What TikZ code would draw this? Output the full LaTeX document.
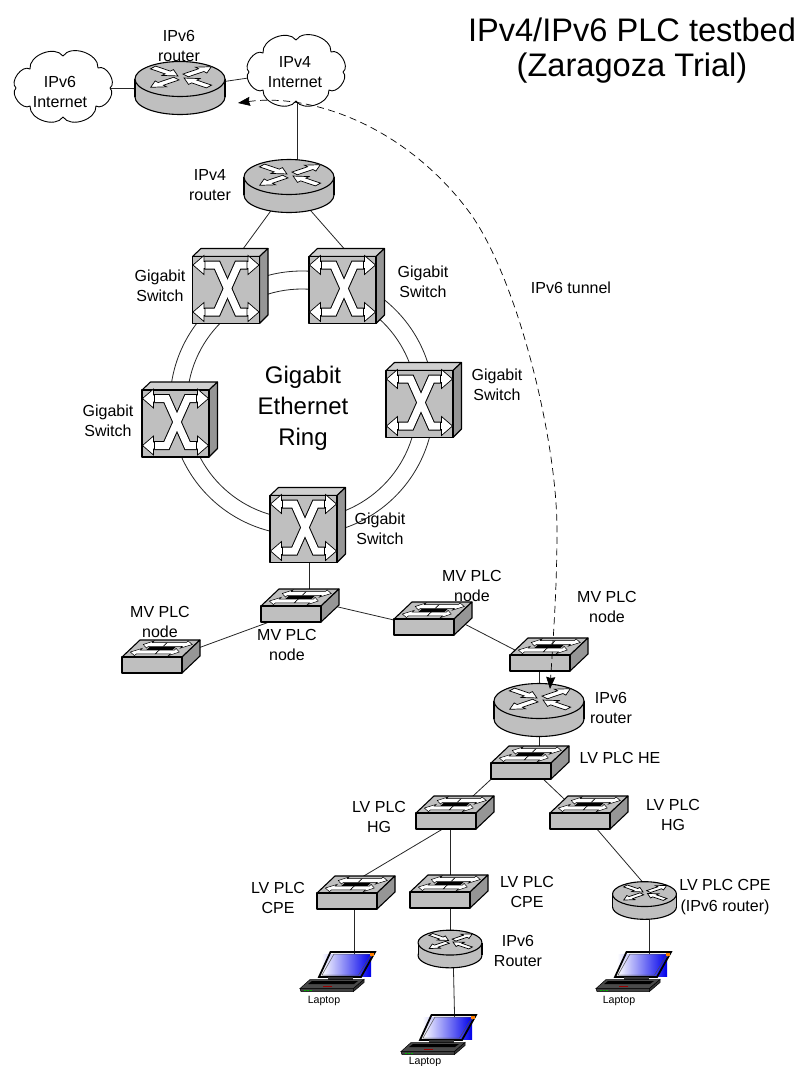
\documentclass[tikz,border=0pt]{standalone}
\usepackage{fontspec}
\setmainfont{Liberation Sans}
\usetikzlibrary{arrows.meta,backgrounds}
\definecolor{devgray}{HTML}{BFBFBF}
\definecolor{devlight}{HTML}{D0D0D0}
\definecolor{devdark}{HTML}{969696}
\definecolor{lapbody}{HTML}{4A4A4A}
\tikzset{
	icon/.style={draw=black,line width=1.1,line join=round},
	flow/.style={draw=black,fill=white,line width=.7,line join=miter},
	link/.style={draw=black!85,line width=.8},
	ringline/.style={draw=black!85,line width=.8,circle,inner sep=0},
	hit/.style={inner sep=0,transform shape},
	lbl/.style={align=center,inner sep=0,font=\fontsize{16}{20.5}\selectfont},
	ringlbl/.style={align=center,inner sep=0,font=\fontsize{24}{31}\selectfont},
	titlelbl/.style={align=center,inner sep=0,font=\fontsize{32.6}{35}\selectfont},
	laplbl/.style={inner sep=0,font=\fontsize{10.6}{12}\selectfont},
	tunnel/.style={draw=black,line width=.7,dash pattern=on 7 off 4.5,{Stealth[length=12,width=9,inset=1]}-{Stealth[length=12,width=9,inset=1]}},
	cloudpic/.pic={
		\node[hit,minimum width=96,minimum height=70] (-box) {};
		\draw[icon,fill=white,line width=.9] (0,-31) to[bend left=75] (35,-19) to[bend left=85] (47,1) to[bend left=85] (33,19) to[bend left=75] (0,30) to[bend left=75] (-33,19) to[bend left=85] (-47,1) to[bend left=85] (-33,-18) to[bend left=75] (0,-31) -- cycle;
	},
	routerpic/.pic={
		\node[hit,minimum width=88,minimum height=50] (-box) {};
		\draw[icon,fill=devgray] (0,9) circle[x radius=45,y radius=17.5];
		\fill[devgray] (-45,-9) rectangle (45,9);
		\draw[icon] (-45,-9) -- (-45,9);
		\draw[icon] (45,-9) -- (45,9);
		\draw[icon,fill=devgray] (0,-9) circle[x radius=45,y radius=17.5];
		\begin{scope}[shift={(1,-11)},yscale=.42]
			\foreach \ang/\rtail/\rneck/\rtip in {39/6/26/39,141/36/17/4,219/6/26/39,321/36/17/4}
				\draw[flow,rotate=\ang] (\rtail,-4.2) -- (\rneck,-4.2) -- (\rneck,-9) -- (\rtip,0) -- (\rneck,9) -- (\rneck,4.2) -- (\rtail,4.2) -- cycle;
		\end{scope}
	},
	bigswitchpic/.pic={
		\node[hit,minimum size=66] (-box) {};
		\draw[icon,fill=devlight] (-33.5,-33.5) -- (-25,-41.5) -- (42,-41.5) -- (33.5,-33.5) -- cycle;
		\draw[icon,fill=devdark] (33.5,-33.5) -- (42,-41.5) -- (42,25) -- (33.5,33.5) -- cycle;
		\draw[icon,fill=devgray] (-33.5,-33.5) rectangle (33.5,33.5);
		\foreach \lw/\col in {9/black,7/white} {
			\draw[line width=\lw,color=\col,line join=miter] (-24,-25) -- (-9,-25) -- (12,22) -- (24,22);
			\draw[line width=\lw,color=\col,line join=miter] (-24,22) -- (-9,22) -- (12,-25) -- (24,-25);
		}
		\foreach \sx in {-1,1}
			\foreach \sy in {-25,22}
				\draw[flow,xscale=\sx] (22,\sy-9.5) -- (33,\sy) -- (22,\sy+9.5) -- (22,\sy+3.5) -- (21,\sy+3.5) -- (21,\sy-3.5) -- (22,\sy-3.5) -- cycle;
	},
	smallswitchpic/.pic={
		\node[hit,minimum width=58,minimum height=14] (-box) at (-9,8) {};
		\draw[icon,fill=devgray] (-39,0) -- (-21,-17) -- (39,-17) -- (21,0) -- cycle;
		\draw[icon,fill=devdark] (21,0) -- (39,-17) -- (39,-1) -- (21,16) -- cycle;
		\draw[icon,fill=devgray] (-39,0) rectangle (21,16);
		\begin{scope}[shift={(-9,0)},xslant=1.06]
			\fill[black] (-13,-10) rectangle (13,-7);
			\foreach \v/\tail/\neck/\tip in {-12.5/0/-15/-22,-12.5/0/19/27,-5/0/-19/-27,-5/0/15/22}
				\draw[flow,line width=.5] (\tail,\v-1.9) -- (\neck,\v-1.9) -- (\neck,\v-3.6) -- (\tip,\v) -- (\neck,\v+3.6) -- (\neck,\v+1.9) -- (\tail,\v+1.9) -- cycle;
		\end{scope}
	},
	laptoppic/.pic={
		\node[hit,minimum width=40,minimum height=30] (-box) {};
		\shade[left color=white,right color=blue!92!black] (-18.5,-17.5) rectangle (31,4);
		\draw[black,line width=1.8,line join=miter] (-21,5) -- (21,5) -- (35,-20) -- (-9.5,-20) -- cycle;
		\draw[black!70,line width=.5] (-18,3) -- (18.5,3) -- (31.5,-18) -- (-6,-18) -- cycle;
		\fill[orange] (30,-19) rectangle (33.5,-16);
		\fill[black!80] (-12,5) rectangle (13,7.5);
		\draw[black,line width=.5,fill=lapbody] (-30,7.5) -- (24,7.5) -- (13.5,16.5) -- (-40,16.5) -- cycle;
		\draw[black,line width=.5,fill=black!75] (-40,16.5) -- (13.5,16.5) -- (13.5,19.5) -- (-39,19.5) -- cycle;
		\draw[black,line width=.5,fill=black!80] (13.5,16.5) -- (24,7.5) -- (24,10.5) -- (13.5,19.5) -- cycle;
		\fill[black] (-28,9) -- (18,9) -- (14,12) -- (-32,12) -- cycle;
		\fill[red!60!black] (-17,13.5) rectangle (-8,15);
		\foreach \ledx in {-36,-33,-30}
			\fill[green!70!black] (\ledx,17.5) rectangle (\ledx+1.5,18.7);
	},
}
\begin{document}
\begin{tikzpicture}[x=1pt,y=-1pt]
	\useasboundingbox (0,0) rectangle (803,1066);
	\pic (cloudSix) at (63,87) {cloudpic};
	\pic (cloudFour) at (296,71) {cloudpic};
	\pic (rtSix) at (180,88) {routerpic};
	\pic (rtFour) at (289,186) {routerpic};
	\pic (swA) at (226,290) {bigswitchpic};
	\pic (swB) at (342.5,290) {bigswitchpic};
	\pic (swC) at (175.5,423.5) {bigswitchpic};
	\pic (swD) at (419.5,404) {bigswitchpic};
	\pic (swE) at (303.5,529) {bigswitchpic};
	\pic (mvCentre) at (300,606) {smallswitchpic};
	\pic (mvLeft) at (161,657) {smallswitchpic};
	\pic (mvMid) at (433,619) {smallswitchpic};
	\pic (mvRight) at (549,655) {smallswitchpic};
	\pic (rtTail) at (539,710) {routerpic};
	\pic (lvHe) at (530,763) {smallswitchpic};
	\pic (hgLeft) at (455,813) {smallswitchpic};
	\pic (hgRight) at (589,813) {smallswitchpic};
	\pic (cpeLeft) at (356,893) {smallswitchpic};
	\pic (cpeMid) at (449,892) {smallswitchpic};
	\pic[scale=.71] (rtMid) at (450,949) {routerpic};
	\pic[scale=.71] (rtRight) at (644.5,900.5) {routerpic};
	\pic (lapLeft) at (340,972) {laptoppic};
	\pic (lapMid) at (441,1035) {laptoppic};
	\pic (lapRight) at (636,972) {laptoppic};
	\begin{scope}[on background layer]
		\node[ringline,minimum size=264] (ringOuter) at (302,403) {};
		\node[ringline,minimum size=230] (ringInner) at (302,404) {};
		\draw[link] ([yshift=-1]cloudSix-box.center) -- ([yshift=-1]rtSix-box.center);
		\draw[link] (rtSix-box.center) -- (cloudFour-box.center);
		\draw[link] ([xshift=1]cloudFour-box.center) -- ([xshift=8]rtFour-box.center);
		\draw[link] (rtFour-box.center) -- ([xshift=-13]swA-box.center);
		\draw[link] (rtFour-box.center) -- ([xshift=38]swB-box.center);
		\draw[link] ([xshift=5.5]swE-box.center) -- ([xshift=18]mvCentre-box.center);
		\draw[link] (mvCentre-box.center) -- (mvLeft-box.center);
		\draw[link] ([yshift=18]mvCentre-box.center) -- (mvMid-box.center);
		\draw[link] ([yshift=24]mvMid-box.center) -- (mvRight-box.center);
		\draw[link] ([xshift=-1]mvRight-box.center) -- (rtTail-box.center);
		\draw[link] (rtTail-box.center) -- ([xshift=18]lvHe-box.center);
		\draw[link] ([xshift=-21]lvHe-box.center) -- (hgLeft-box.center);
		\draw[link] ([yshift=13]lvHe-box.center) -- ([yshift=7]hgRight-box.center);
		\draw[link] ([yshift=-6]hgLeft-box.center) -- ([yshift=15]cpeLeft-box.center);
		\draw[link] ([xshift=4]hgLeft-box.center) -- ([xshift=10]cpeMid-box.center);
		\draw[link] ([xshift=10]hgRight-box.center) -- ([xshift=14]rtRight-box.center);
		\draw[link] ([xshift=7]cpeLeft-box.center) -- ([xshift=14]lapLeft-box.center);
		\draw[link] ([xshift=10]cpeMid-box.center) -- (rtMid-box.center);
		\draw[link] ([xshift=3]rtMid-box.center) -- ([xshift=14]lapMid-box.center);
		\draw[link] ([xshift=4.5]rtRight-box.center) -- ([xshift=13]lapRight-box.center);
	\end{scope}
	\node[titlelbl] (lblTitle) at (632,51) {IPv4/IPv6 PLC testbed\\(Zaragoza Trial)};
	\node[lbl] (lblRtSix) at (179,46) {IPv6\\router};
	\node[lbl] (lblCloudSix) at (60,92) {IPv6\\Internet};
	\node[lbl] (lblCloudFour) at (295,72) {IPv4\\Internet};
	\node[lbl] (lblRtFour) at (210,185) {IPv4\\router};
	\node[lbl] (lblSwA) at (160,286) {Gigabit\\Switch};
	\node[lbl] (lblSwB) at (423,282) {Gigabit\\Switch};
	\node[lbl] (lblSwC) at (108,421) {Gigabit\\Switch};
	\node[lbl] (lblSwD) at (497,385) {Gigabit\\Switch};
	\node[lbl] (lblSwE) at (380,529) {Gigabit\\Switch};
	\node[ringlbl] (lblRing) at (303,408) {Gigabit\\Ethernet\\Ring};
	\node[lbl] (lblTunnel) at (571,288) {IPv6 tunnel};
	\node[lbl] (lblMvLeft) at (160,622) {MV PLC\\node};
	\node[lbl] (lblMvCentre) at (287,645) {MV PLC\\node};
	\node[lbl] (lblMvMid) at (472,586) {MV PLC\\node};
	\node[lbl] (lblMvRight) at (607,607) {MV PLC\\node};
	\node[lbl] (lblRtTail) at (611,708) {IPv6\\router};
	\node[lbl] (lblHe) at (620,758) {LV PLC HE};
	\node[lbl] (lblHgLeft) at (379,817) {LV PLC\\HG};
	\node[lbl] (lblHgRight) at (673,815) {LV PLC\\HG};
	\node[lbl] (lblCpeLeft) at (278,898) {LV PLC\\CPE};
	\node[lbl] (lblCpeMid) at (527,892) {LV PLC\\CPE};
	\node[lbl] (lblRtMid) at (518,951) {IPv6\\Router};
	\node[lbl] (lblRtRight) at (725,897) {LV PLC CPE\\(IPv6 router)};
	\node[laplbl] (lblLapLeft) at (324,1001) {Laptop};
	\node[laplbl] (lblLapMid) at (425,1062) {Laptop};
	\node[laplbl] (lblLapRight) at (619,1001) {Laptop};
	\coordinate (tunnelA) at (238,103);
	\coordinate (tunnelB) at (550,689);
	\draw[tunnel] (tunnelA) .. controls (310,93) and (405,125) .. (470,213) .. controls (518,280) and (557,440) .. (557,530) .. controls (557,590) and (553,640) .. (tunnelB);
\end{tikzpicture}
\end{document}
